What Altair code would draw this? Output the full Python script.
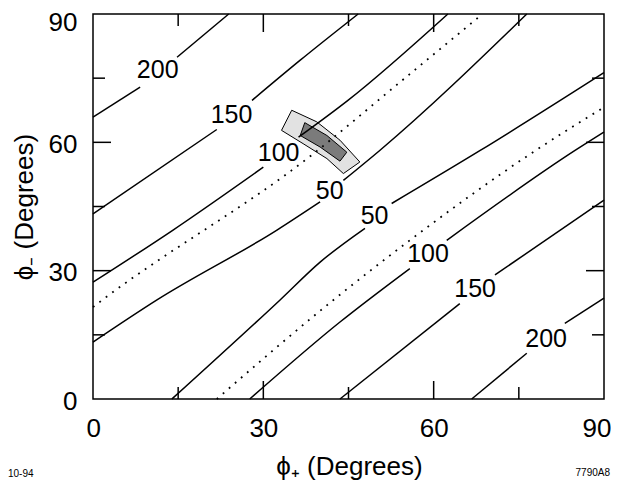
import altair as alt
import pandas as pd

FONT = "Liberation Sans"

# ---------------- data (degrees) ----------------
# solid contour lines, broken where their labels sit
ul200 = [[(0, 65.9), (8.3, 72.9)], [(14.8, 79.9), (23.9, 90)]]
ul150 = [[(0, 43.3), (21.8, 63.0)], [(28.0, 69.8), (36.5, 79.2), (46.7, 90)]]
ul100 = [[(0, 27.3), (14.1, 39.5), (30.0, 54.2)], [(36.2, 61.2), (44.9, 69.8), (62.5, 90)]]
ul50 = [[(0, 13.3), (11.2, 23.1), (32.4, 39.5), (40.0, 46.1)], [(44.1, 51.1), (50.5, 58.1), (76.4, 90)]]
lr50 = [[(13.9, 0), (32.9, 23.1), (40.0, 32.0), (47.9, 39.9)], [(52.6, 45.7), (68.2, 58.1), (90, 76.3)]]
lr100 = [[(27.6, 0), (43.5, 18.0), (55.8, 30.5)], [(62.3, 37.1), (84.9, 58.1), (90, 62.4)]]
lr150 = [[(43.5, 0), (64.6, 22.3)], [(70.8, 29.0), (90, 46.5)]]
lr200 = [[(66.7, 0), (76.4, 10.7)], [(83.1, 17.7), (90, 23.6)]]

# dotted lines
dot_ul = [(0, 21.5), (2.4, 23.9), (38.5, 57.0), (54.1, 74.1), (68.6, 90)]
dot_lr = [(21.8, 0), (42.3, 23.1), (55.8, 37.1), (77.5, 57.7), (90, 68.2)]

# contour labels
label_text = ["200", "150", "100", "50", "50", "100", "150", "200"]
label_x = [11.4, 24.4, 32.7, 41.7, 49.6, 59.0, 67.3, 79.8]
label_y = [77.0, 66.3, 57.4, 48.6, 42.8, 33.8, 25.6, 14.0]

# shaded allowed regions (closed outlines)
light_band = [(33.2, 62.8), (35.0, 67.5), (39.4, 64.8), (43.5, 60.5), (47.0, 55.4),
              (44.1, 52.7), (41.2, 56.2), (37.0, 59.7), (33.2, 62.8)]
dark_band = [(36.5, 61.6), (37.3, 64.6), (41.2, 61.6), (44.7, 57.7),
             (43.5, 55.6), (40.0, 58.9), (36.5, 61.6)]

tick_labels = [0, 30, 60, 90]
major_ticks = [30, 60]
minor_ticks = [15, 45, 75]
corner_notes = ["10-94", "7790A8"]

# ---------------- tables ----------------
rows = []
for name, segs in [("ul200", ul200), ("ul150", ul150), ("ul100", ul100), ("ul50", ul50),
                   ("lr50", lr50), ("lr100", lr100), ("lr150", lr150), ("lr200", lr200)]:
    for k, seg in enumerate(segs):
        for i, (x, y) in enumerate(seg):
            rows.append({"x": x, "y": y, "seg": f"{name}-{k}", "i": i})
df_solid = pd.DataFrame(rows)

rows = []
for name, pts in [("dul", dot_ul), ("dlr", dot_lr)]:
    for i, (x, y) in enumerate(pts):
        rows.append({"x": x, "y": y, "seg": name, "i": i})
df_dot = pd.DataFrame(rows)

def poly(pts):
    return pd.DataFrame([{"x": x, "y": y, "i": i} for i, (x, y) in enumerate(pts)])

df_light = poly(light_band)
df_dark = poly(dark_band)
df_labels = pd.DataFrame({"x": label_x, "y": label_y, "t": label_text})

W, H = 511, 385
xs = alt.Scale(domain=[0, 90], nice=False, zero=False)
ys = alt.Scale(domain=[0, 90], nice=False, zero=False)

xaxis = alt.Axis(values=tick_labels, ticks=False, domain=False, grid=False, format="d",
                 labelFont=FONT, labelFontSize=26, labelColor="black", labelPadding=16,
                 labelFlush=True, labelFlushOffset=7, labelOverlap=False,
                 title="ϕ₊  (Degrees)", titleFont=FONT, titleFontSize=26,
                 titleFontWeight="normal", titleColor="black",
                 titleX=256, titleY=75, titleAlign="center", titleBaseline="alphabetic")
yaxis = alt.Axis(values=tick_labels, ticks=False, domain=False, grid=False, format="d",
                 labelFont=FONT, labelFontSize=26, labelColor="black", labelPadding=16,
                 labelFlush=False, labelOverlap=False,
                 labelOffset={"condition": {"test": "datum.value == 90", "value": 8}, "value": 2},
                 title="ϕ₋  (Degrees)", titleFont=FONT, titleFontSize=26,
                 titleFontWeight="normal", titleColor="black",
                 titleX=-61, titleY=H / 2, titleAngle=270, titleAlign="center",
                 titleBaseline="alphabetic")

X = alt.X("x:Q", scale=xs, axis=xaxis)
Y = alt.Y("y:Q", scale=ys, axis=yaxis)

light = alt.Chart(df_light).mark_line(fill="#e2e2e2", stroke="black", strokeWidth=1).encode(
    x=X, y=Y, order="i:Q")
dark = alt.Chart(df_dark).mark_line(fill="#7b7b7b", stroke="black", strokeWidth=1).encode(
    x=X, y=Y, order="i:Q")
solid = alt.Chart(df_solid).mark_line(color="black", strokeWidth=1.5, interpolate="monotone").encode(
    x=X, y=Y, detail="seg:N", order="i:Q")
dotted = alt.Chart(df_dot).mark_line(color="black", strokeWidth=1.8, strokeDash=[1.8, 6.2],
                                     interpolate="monotone").encode(
    x=X, y=Y, detail="seg:N", order="i:Q")
labels = alt.Chart(df_labels).mark_text(font=FONT, fontSize=25, color="black",
                                        baseline="middle", align="center").encode(
    x=X, y=Y, text="t:N")

df_maj_x = pd.DataFrame({"x": major_ticks})
df_min_x = pd.DataFrame({"x": minor_ticks})
df_maj_y = pd.DataFrame({"y": major_ticks})
df_min_y = pd.DataFrame({"y": minor_ticks})

tick_layers = []
for dfx, L in [(df_maj_x, 18), (df_min_x, 12)]:
    tick_layers.append(alt.Chart(dfx).mark_rule(color="black", strokeWidth=1.5).encode(
        x=X, y=alt.value(H), y2=alt.value(H - L)))
    tick_layers.append(alt.Chart(dfx).mark_rule(color="black", strokeWidth=1.5).encode(
        x=X, y=alt.value(0), y2=alt.value(L)))
for dfy, L in [(df_maj_y, 18), (df_min_y, 12)]:
    tick_layers.append(alt.Chart(dfy).mark_rule(color="black", strokeWidth=1.5).encode(
        y=Y, x=alt.value(0), x2=alt.value(L)))
    tick_layers.append(alt.Chart(dfy).mark_rule(color="black", strokeWidth=1.5).encode(
        y=Y, x=alt.value(W), x2=alt.value(W - L)))

note_left = alt.Chart(pd.DataFrame({"t": [corner_notes[0]]})).mark_text(
    font=FONT, fontSize=10, color="black", align="left", baseline="middle").encode(
    text="t:N", x=alt.value(-85), y=alt.value(460))
note_right = alt.Chart(pd.DataFrame({"t": [corner_notes[1]]})).mark_text(
    font=FONT, fontSize=10, color="black", align="right", baseline="middle").encode(
    text="t:N", x=alt.value(517), y=alt.value(459))

chart = alt.layer(light, dark, solid, dotted, labels, *tick_layers, note_left, note_right).properties(
    width=W, height=H,
    autosize=alt.AutoSizeParams(type="none"),
    padding={"left": 85, "top": 6, "right": 7, "bottom": 84},
).configure_view(stroke="black", strokeWidth=1.5)

chart.save("out.html", embed_options={"renderer": "svg", "actions": False})
